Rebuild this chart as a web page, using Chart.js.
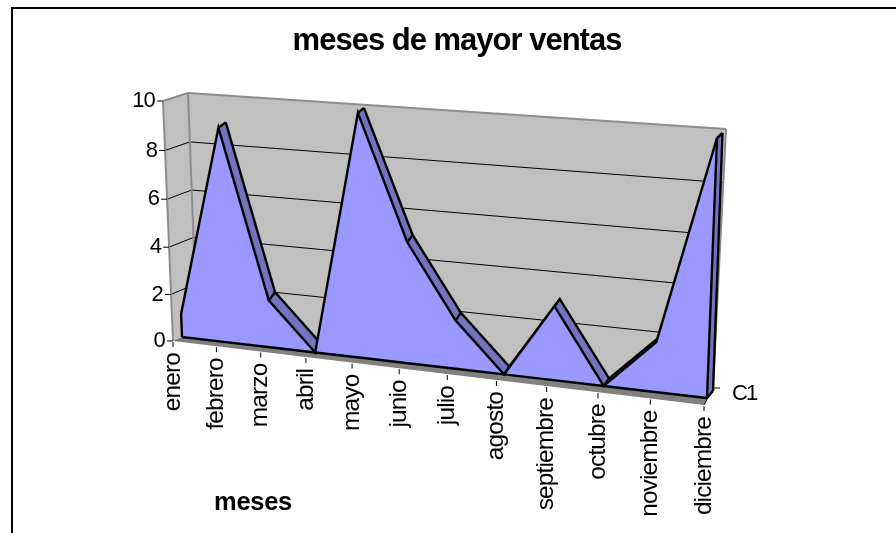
<!DOCTYPE html>
<html><head><meta charset="utf-8">
<style>html,body{margin:0;padding:0;background:#fff}canvas{display:block}</style>
<script src="https://cdn.jsdelivr.net/npm/chart.js@4/dist/chart.umd.min.js"></script>
</head><body><canvas id="c" width="896" height="533"></canvas>
<script>
const months=['enero','febrero','marzo','abril','mayo','junio','julio','agosto','septiembre','octubre','noviembre','diciembre'];
const sales=[1,9,2,0,10,5,2,0,3,0,2,10];
const baseline=[0,0,0,0,0,0,0,0,0,0,0,0];
const yTicks=[0,2,4,6,8,10];
const seriesName='C1';
const chartTitle='meses de mayor ventas';
const xTitle='meses';

function homography(p00,p10,p01,p11){
  const dx1=p10[0]-p11[0],dx2=p01[0]-p11[0],sx=p00[0]-p10[0]+p11[0]-p01[0];
  const dy1=p10[1]-p11[1],dy2=p01[1]-p11[1],sy=p00[1]-p10[1]+p11[1]-p01[1];
  const den=dx1*dy2-dx2*dy1;
  const g=(sx*dy2-dx2*sy)/den,h=(dx1*sy-sx*dy1)/den;
  const a=p10[0]-p00[0]+g*p10[0],b=p01[0]-p00[0]+h*p01[0],c=p00[0];
  const d=p10[1]-p00[1]+g*p10[1],e=p01[1]-p00[1]+h*p01[1],f=p00[1];
  return (u,t)=>{const w=g*u+h*t+1;return [(a*u+b*t+c)/w,(d*u+e*t+f)/w];};
}
// perspective planes of the 3-D box: front edge, area front, area back, back wall
const planes={
  front:homography([173,341],[704,405],[163,101],[716,137]),
  areaFront:homography([182,337],[707,398],[172.5,100],[717,138]),
  areaBack:homography([189,328],[713,391],[180.5,95],[722.5,133]),
  wall:homography([197,330],[713,388],[188,93],[726,129])
};

function seg(ctx,a,b){ctx.beginPath();ctx.moveTo(a[0],a[1]);ctx.lineTo(b[0],b[1]);ctx.stroke();}
function poly(ctx,pts,fill){ctx.beginPath();pts.forEach((p,i)=>i?ctx.lineTo(p[0],p[1]):ctx.moveTo(p[0],p[1]));ctx.closePath();ctx.fillStyle=fill;ctx.fill();}
function label(ctx,text,x,y,font,align,rot,spacing){
  ctx.save();ctx.translate(x,y);if(rot)ctx.rotate(rot);
  ctx.font=font;ctx.textAlign=align;ctx.textBaseline='middle';ctx.fillStyle='#000';
  ctx.letterSpacing=spacing||'0px';ctx.fillText(text,0,0);ctx.restore();
}
const FONT='"Liberation Sans", Arial, sans-serif';
const FRONT_COLOR='#9999ff',DEPTH_COLOR='#7373bf',WALL='#c0c0c0',EDGE='#8c8c8c',FLOOR='#808080',STROKE=2.4;

let frontPts=[],backPts=[];
// a depth face is seen only where the back edge lies above the front edge
function faceVisible(i){
  const a=frontPts[i],b=frontPts[i+1],o=backPts[i];
  return (b.x-a.x)*(o.y-a.y)-(b.y-a.y)*(o.x-a.x)<0;
}

const boxPlugin={
  id:'box3d',
  afterDatasetsUpdate(chart){
    const xs=chart.scales.x,ys=chart.scales.y,last=months.length-1;
    chart.data.datasets.forEach((ds,di)=>{
      const meta=chart.getDatasetMeta(di),P=planes[ds.plane];
      meta.data.forEach(el=>{
        const v=ys.getValueForPixel(el.y);
        const q=P(xs.getValueForPixel(el.x)/last,(v-ys.min)/(ys.max-ys.min));
        el.x=q[0];el.y=q[1];
      });
    });
    frontPts=chart.getDatasetMeta(1).data;backPts=chart.getDatasetMeta(2).data;
  },
  beforeDatasetsDraw(chart){
    const ctx=chart.ctx,ys=chart.scales.y,last=months.length-1;
    const T=v=>(v-ys.min)/(ys.max-ys.min);
    ctx.save();
    ctx.strokeStyle='#000';ctx.lineWidth=2;
    ctx.beginPath();ctx.moveTo(12,533);ctx.lineTo(12,8);ctx.lineTo(896,8);ctx.stroke();
    const F=planes.front,W=planes.wall;
    poly(ctx,[F(0,0),F(0,1),W(0,1),W(0,0)],WALL);
    poly(ctx,[W(0,0),W(0,1),W(1,1),W(1,0)],WALL);
    poly(ctx,[F(0,0),F(1,0),W(1,0),W(0,0)],FLOOR);
    ctx.strokeStyle='#000';ctx.lineWidth=1;
    yTicks.forEach(v=>{
      if(v!==ys.min&&v!==ys.max){seg(ctx,F(0,T(v)),W(0,T(v)));seg(ctx,W(0,T(v)),W(1,T(v)));}
    });
    ctx.strokeStyle=EDGE;ctx.lineWidth=2;
    seg(ctx,F(0,0),F(0,1));seg(ctx,F(0,1),W(0,1));seg(ctx,W(0,1),W(1,1));
    seg(ctx,W(0,1),W(0,0));seg(ctx,W(1,1),W(1,0));
    ctx.strokeStyle='#000';ctx.lineWidth=1;
    yTicks.forEach(v=>{const p=F(0,T(v));seg(ctx,[p[0]-6,p[1]],p);});
    months.forEach((m,i)=>{const p=F(i/last,0);seg(ctx,[p[0],p[1]+1],[p[0],p[1]+6]);});
    const c=W(1,0);seg(ctx,c,[c[0]+7,c[1]]);seg(ctx,F(1,0),c);
    ctx.restore();
  },
  beforeDatasetDraw(chart,args){
    const ctx=chart.ctx,ds=chart.data.datasets[args.index];
    if(ds.plane==='areaBack'){
      for(let i=0;i<frontPts.length-1;i++){
        if(faceVisible(i)) poly(ctx,[frontPts[i],frontPts[i+1],backPts[i+1],backPts[i]].map(e=>[e.x,e.y]),DEPTH_COLOR);
      }
      const l=frontPts.length-1;
      poly(ctx,[[frontPts[l].x,frontPts[l].y],[backPts[l].x,backPts[l].y],planes.areaBack(1,0),planes.areaFront(1,0)],DEPTH_COLOR);
    }
    if(args.index===1){
      const base=chart.getDatasetMeta(0).data;
      poly(ctx,frontPts.map(e=>[e.x,e.y]).concat(base.slice().reverse().map(e=>[e.x,e.y])),FRONT_COLOR);
    }
  },
  afterDatasetDraw(chart,args){
    const ctx=chart.ctx,ds=chart.data.datasets[args.index],l=frontPts.length-1;
    ctx.save();ctx.strokeStyle='#000';ctx.lineWidth=STROKE;
    if(ds.plane==='areaBack'){
      frontPts.forEach((e,i)=>{
        if(i===l||faceVisible(i)||(i>0&&faceVisible(i-1))) seg(ctx,[e.x,e.y],[backPts[i].x,backPts[i].y]);
      });
      seg(ctx,[backPts[l].x,backPts[l].y],planes.areaBack(1,0));
      seg(ctx,planes.areaBack(1,0),planes.areaFront(1,0));
    }
    if(args.index===1){
      const base=chart.getDatasetMeta(0).data;
      seg(ctx,[frontPts[0].x,frontPts[0].y],[base[0].x,base[0].y]);
      seg(ctx,[frontPts[l].x,frontPts[l].y],[base[l].x,base[l].y]);
    }
    ctx.restore();
  },
  afterDatasetsDraw(chart){
    const ctx=chart.ctx,ys=chart.scales.y,last=months.length-1,F=planes.front;
    const T=v=>(v-ys.min)/(ys.max-ys.min);
    const yFont='22px '+FONT,xFont='24.5px '+FONT;
    yTicks.forEach(v=>{const p=F(0,T(v));label(ctx,String(v),p[0]-8,p[1],yFont,'right',0,'-0.8px');});
    months.forEach((m,i)=>{const p=F(i/last,0);label(ctx,m,p[0],p[1]+12,xFont,'right',-Math.PI/2,'-0.9px');});
    const c=planes.wall(1,0);label(ctx,seriesName,c[0]+19,c[1]+6,yFont,'left',0,'-2px');
    label(ctx,chartTitle,457,41,'bold 31px '+FONT,'center',0,'-1px');
    label(ctx,xTitle,253,503,'bold 25.5px '+FONT,'center',0,'-0.3px');
  }
};

const lineStyle={borderColor:'#000',borderWidth:STROKE,pointRadius:0,tension:0,fill:false,clip:false};
new Chart(document.getElementById('c'),{
  type:'line',
  data:{labels:months,datasets:[
    {label:seriesName+' base',data:baseline,plane:'areaFront',...lineStyle},
    {label:seriesName,data:sales,plane:'areaFront',...lineStyle},
    {label:seriesName+' depth',data:sales,plane:'areaBack',...lineStyle,
     segment:{borderColor:c=>faceVisible(c.p0DataIndex)?'#000':'rgba(0,0,0,0)'}}
  ]},
  options:{
    responsive:false,animation:false,events:[],
    layout:{padding:0},
    plugins:{legend:{display:false},title:{display:false},tooltip:{enabled:false}},
    scales:{
      x:{type:'category',display:false},
      y:{type:'linear',min:0,max:10,display:false}
    }
  },
  plugins:[boxPlugin]
});
</script></body></html>
